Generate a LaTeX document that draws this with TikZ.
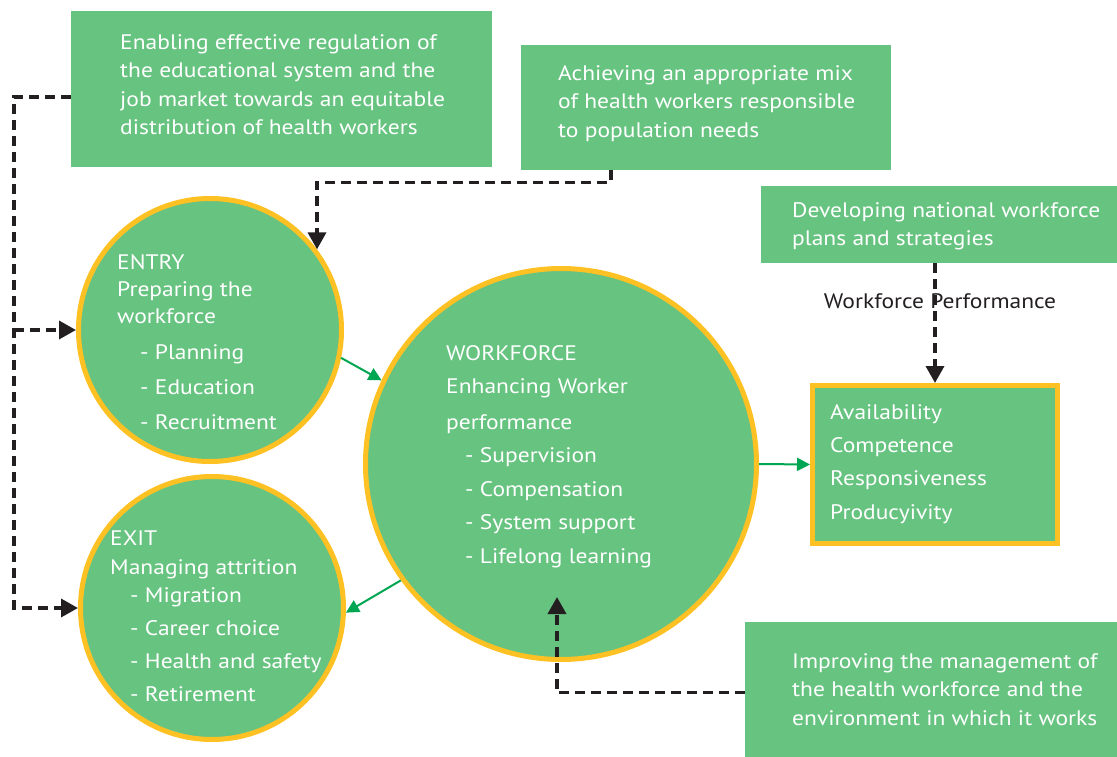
\documentclass[tikz,border=0pt]{standalone}
\usepackage{fontspec}
\setmainfont{PT Sans}[FakeStretch=1.12]
\usetikzlibrary{arrows.meta,positioning,calc}
\definecolor{boxgreen}{RGB}{103,195,128}
\definecolor{ringyellow}{RGB}{253,193,35}
\definecolor{arrowgreen}{RGB}{0,166,81}
\definecolor{dashblack}{RGB}{35,31,32}
\tikzset{goal/.style = {fill=boxgreen, inner sep=0pt, anchor=north west}}
\tikzset{stage/.style = {circle, fill=boxgreen, draw=ringyellow, line width=5pt, inner sep=0pt}}
\tikzset{words/.style = {text=white, align=left, anchor=north west, inner sep=0pt}}
\tikzset{flow/.style = {draw=arrowgreen, line width=2pt, -{Triangle[length=13pt,width=13pt]}}}
\tikzset{link/.style = {draw=dashblack, line width=3.5pt, dash pattern=on 10pt off 6pt, -{Triangle[length=17pt,width=18pt]}}}

\begin{document}
\begin{tikzpicture}[x=1pt,y=-1pt,font=\fontsize{21}{28.5}\selectfont]
\useasboundingbox (0,0) rectangle (1117,757);

% goals
\node[goal, minimum width=421pt, minimum height=156pt] (regulation) at (71,11) {};
\node[goal, minimum width=370pt, minimum height=125pt] (mix) at (521,45) {};
\node[goal, minimum width=356pt, minimum height=77pt] (plans) at (761,186) {};
\node[goal, minimum width=372pt, minimum height=135pt] (care) at (745,622) {};
\node[words] (regulationtext) at (120,34) {Enabling effective regulation of\\the educational system and the\\job market towards an equitable\\distribution of health workers};
\node[words] (mixtext) at (558,65) {Achieving an appropriate mix\\of health workers responsible\\to population needs};
\node[words] (planstext) at (792,202) {Developing national workforce\\plans and strategies};
\node[words] (caretext) at (792,653) {Improving the management of\\the health workforce and the\\environment in which it works};

% stages
\node[stage, minimum size=263pt] (entry) at (210,330) {};
\node[stage, minimum size=263pt] (exit) at (212,608) {};
\node[stage, minimum size=391pt] (workforce) at (561,464) {};
\node[words, font=\fontsize{21}{27}\selectfont] (entrytext) at (117,254) {ENTRY\\Preparing the\\workforce\\[9pt]
  \hspace*{23pt}- Planning\\[8pt]\hspace*{23pt}- Education\\[8pt]\hspace*{23pt}- Recruitment};
\node[words, font=\fontsize{21}{33.5}\selectfont] (workforcetext) at (446,345) {WORKFORCE\\Enhancing Worker\\[2pt]performance\\
  \hspace*{19pt}- Supervision\\\hspace*{19pt}- Compensation\\\hspace*{19pt}- System support\\\hspace*{19pt}- Lifelong learning};
\node[words, font=\fontsize{21}{28.5}\selectfont] (exittext) at (110,531) {EXIT\\Managing attrition\\
  \hspace*{20pt}- Migration\\[4.5pt]\hspace*{20pt}- Career choice\\[4.5pt]\hspace*{20pt}- Health and safety\\[4.5pt]\hspace*{20pt}- Retirement};

% outcome
\node[fill=boxgreen, draw=ringyellow, line width=5pt, inner sep=0pt, minimum width=245pt, minimum height=158pt] (outcome) at (935,464.5) {};
\node[words, font=\fontsize{21}{33.3}\selectfont] (outcometext) at (830,404) {Availability\\Competence\\Responsiveness\\Producyivity};

% green flow
\draw[flow] (entry.-12) -- (workforce.155);
\draw[flow] (workforce.-144) -- (exit.-2);
\draw[flow] (workforce.east) -- (outcome.west);

% dashed links
\coordinate (learning) at (557,597);
\draw[link] ([yshift=-8pt]regulation.west) -- ++(-57,0) coordinate (rail) |- (exit.west);
\draw[link] (rail |- entry.west) -- (entry.west);
\draw[link] ([xshift=-95pt]mix.south) -- ++(0,12) -| (entry.37);
\draw[link] (plans.south -| outcome.north) -- (outcome.north);
\draw[link] ([yshift=-3pt]care.west) -| (learning);

\node[text=dashblack] (performance) at (940,301) {Workforce Performance};
\end{tikzpicture}
\end{document}
